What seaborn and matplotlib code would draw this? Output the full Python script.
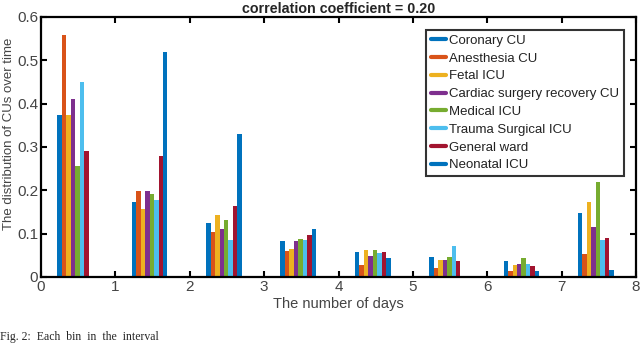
import numpy as np
import pandas as pd
import seaborn as sns
import matplotlib.pyplot as plt
from matplotlib.lines import Line2D

# bin positions (days) and care-unit names
days = [0.46, 1.46, 2.46, 3.46, 4.46, 5.46, 6.46, 7.46]
units = ['Coronary CU', 'Anesthesia CU', 'Fetal ICU', 'Cardiac surgery recovery CU',
         'Medical ICU', 'Trauma Surgical ICU', 'General ward', 'Neonatal ICU']

# distribution values per unit, one value per day bin
coronary = [0.373, 0.174, 0.125, 0.083, 0.057, 0.046, 0.036, 0.147]
anesthesia = [0.558, 0.199, 0.104, 0.059, 0.027, 0.021, 0.014, 0.053]
fetal = [0.373, 0.157, 0.142, 0.064, 0.062, 0.039, 0.027, 0.174]
cardiac = [0.411, 0.199, 0.110, 0.083, 0.048, 0.039, 0.029, 0.116]
medical = [0.255, 0.191, 0.131, 0.087, 0.062, 0.046, 0.044, 0.220]
trauma = [0.450, 0.178, 0.085, 0.085, 0.056, 0.072, 0.029, 0.085]
general = [0.290, 0.280, 0.165, 0.096, 0.057, 0.036, 0.025, 0.091]
neonatal = [0.0, 0.520, 0.329, 0.110, 0.043, 0.0, 0.015, 0.016]

colors = ['#0072BD', '#D95319', '#EDB120', '#7E2F8E',
          '#77AC30', '#4DBEEE', '#A2142F', '#0072BD']

series = [coronary, anesthesia, fetal, cardiac, medical, trauma, general, neonatal]
df = pd.DataFrame({
    'day': np.tile(days, len(units)),
    'unit': np.repeat(units, len(days)),
    'value': np.concatenate(series),
})

sns.set_style('white')
plt.rcParams['font.family'] = ['Liberation Sans', 'DejaVu Sans']

fig = plt.figure(figsize=(6.4, 3.43), dpi=100)
ax = fig.add_axes([41 / 640, 1 - 277 / 343, 595 / 640, 260 / 343])

sns.barplot(data=df, x='day', y='value', hue='unit', hue_order=units,
            palette=colors, native_scale=True, width=0.48, gap=0,
            linewidth=0, saturation=1, errorbar=None, legend=False, ax=ax)

ax.set_xlim(0, 8)
ax.set_ylim(0, 0.6)
ax.set_xticks(range(9))
ax.set_xticklabels([str(i) for i in range(9)])
ax.set_yticks([0, 0.1, 0.2, 0.3, 0.4, 0.5, 0.6])
ax.set_yticklabels(['0', '0.1', '0.2', '0.3', '0.4', '0.5', '0.6'])
ax.tick_params(direction='in', length=4, width=1.5, colors='black',
               labelcolor='#444444', labelsize=11, top=True, right=True,
               bottom=True, left=True, pad=2)
for s in ax.spines.values():
    s.set_visible(True)
    s.set_color('black')
    s.set_linewidth(1.6)

ax.set_title('correlation coefficient = 0.20', fontsize=10.3,
             fontweight='bold', pad=3)
ax.set_xlabel('The number of days', fontsize=10.5, color='#444444', labelpad=2)
ax.set_ylabel('The distribution of CUs over time', fontsize=9.5,
              color='#444444', labelpad=2)
ax.yaxis.set_label_coords(-0.043, 0.55)

handles = [Line2D([0], [0], color=c, lw=3) for c in colors]
leg = ax.legend(handles, units, loc='upper right', bbox_to_anchor=(0.98, 0.95),
                fontsize=9.5, frameon=True, fancybox=False, handlelength=1.1,
                handletextpad=0.3, labelspacing=0.42, borderpad=0.35,
                borderaxespad=0)
leg.get_frame().set_edgecolor('black')
leg.get_frame().set_linewidth(1.5)
for t in leg.get_texts():
    t.set_color('#222222')

fig.text(0.0, 1 - 331 / 343, 'Fig. 2:  Each  bin  in  the  interval',
         family=['Liberation Serif', 'DejaVu Serif'], fontsize=8.5, va='top',
         ha='left')

fig.savefig('out.png', dpi=100)
